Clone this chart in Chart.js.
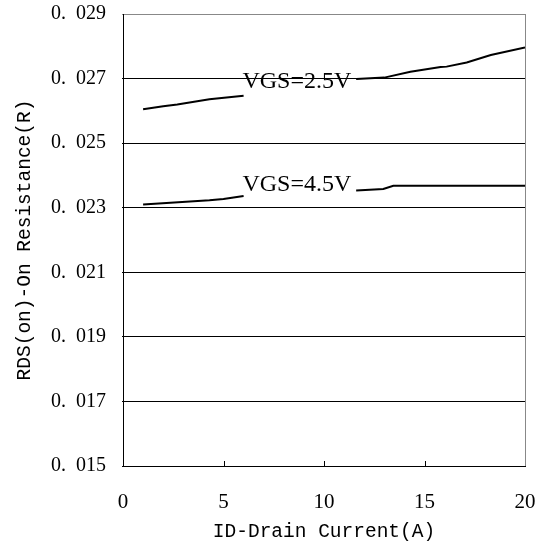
<!DOCTYPE html>
<html>
<head>
<meta charset="utf-8">
<script src="https://cdn.jsdelivr.net/npm/chart.js@4/dist/chart.umd.min.js"></script>
<style>
  html, body { margin: 0; padding: 0; background: #fff; }
  #wrap { width: 547px; height: 549px; }
</style>
</head>
<body>
<div id="wrap"><canvas id="js-chart"></canvas></div>
<script>
'use strict';

// drain current (A) and on-resistance (ohm); null = gap for the label
const currentVgs25 = [1, 2, 2.7, 4.3, 6, null, 11.6, 13, 14.3, 15.8, 16.1, 17.1, 18.3, 20];
const resistVgs25 = [0.02605, 0.02614, 0.0262, 0.02636, 0.02647, null, 0.02699, 0.02703, 0.02721, 0.02736, 0.02737, 0.0275, 0.02773, 0.02796];

const currentVgs45 = [1, 4.3, 5, 6, null, 11.6, 12.95, 13.45, 20];
const resistVgs45 = [0.0231, 0.02323, 0.02327, 0.02336, null, 0.02353, 0.02358, 0.02368, 0.02368];

const seriesNames = ['VGS=2.5V', 'VGS=4.5V'];
const labelSpots = [[8.65, 0.0269], [8.65, 0.0237]];

const xTicks = [0, 5, 10, 15, 20];
const yTicks = [0.015, 0.017, 0.019, 0.021, 0.023, 0.025, 0.027, 0.029];
const yTickLabels = ['0.\u2002015', '0.\u2002017', '0.\u2002019', '0.\u2002021', '0.\u2002023', '0.\u2002025', '0.\u2002027', '0.\u2002029'];

const toPoints = function(xs, ys) {
  return xs.map((x, i) => (x === null ? { x: NaN, y: null } : { x: x, y: ys[i] }));
};

// curve names placed on the chart in data coordinates, plus inward x ticks
const curveLabels = {
  id: 'curveLabels',
  afterDatasetsDraw(chart) {
    const ctx = chart.ctx;
    const xs = chart.scales.x;
    const ys = chart.scales.y;
    ctx.save();
    ctx.font = '24px "Liberation Serif"';
    ctx.fillStyle = '#000';
    ctx.textAlign = 'center';
    ctx.textBaseline = 'middle';
    labelSpots.forEach((p, i) => {
      ctx.fillText(seriesNames[i], xs.getPixelForValue(p[0]), ys.getPixelForValue(p[1]));
    });
    ctx.strokeStyle = '#000';
    ctx.lineWidth = 1;
    const bottom = chart.chartArea.bottom;
    for (let v of [5, 10, 15]) {
      const px = Math.round(xs.getPixelForValue(v)) + 0.5;
      ctx.beginPath();
      ctx.moveTo(px, bottom);
      ctx.lineTo(px, bottom - 5);
      ctx.stroke();
    }
    ctx.restore();
  }
};

const ctx = document.getElementById('js-chart').getContext('2d');
const myChart = new Chart(ctx, {
  type: 'line',
  data: {
    datasets: [
      {
        label: seriesNames[0],
        data: toPoints(currentVgs25, resistVgs25),
        borderColor: '#000',
        borderWidth: 2,
        pointRadius: 0,
        tension: 0,
        spanGaps: false
      },
      {
        label: seriesNames[1],
        data: toPoints(currentVgs45, resistVgs45),
        borderColor: '#000',
        borderWidth: 2,
        pointRadius: 0,
        tension: 0,
        spanGaps: false
      }
    ]
  },
  options: {
    responsive: true,
    maintainAspectRatio: false,
    animation: false,
    layout: { padding: { top: 14, right: 22, left: 0, bottom: 0 } },
    plugins: {
      legend: { display: false },
      tooltip: { enabled: false }
    },
    scales: {
      x: {
        type: 'linear',
        min: 0,
        max: 20,
        afterBuildTicks: function(scale) {
          scale.ticks = xTicks.map(v => ({ value: v }));
        },
        afterFit: function(scale) {
          scale.height = 83;
          scale.paddingLeft = 0;
          scale.paddingRight = 0;
        },
        ticks: {
          padding: 24,
          color: '#000',
          font: { family: 'Liberation Serif', size: 21 },
          maxRotation: 0
        },
        grid: {
          drawTicks: false,
          color: c => (c.tick && c.tick.value === 20 ? '#888' : 'rgba(0,0,0,0)')
        },
        border: { color: '#000', width: 1 },
        title: {
          display: true,
          text: 'ID-Drain Current(A)',
          color: '#000',
          font: { family: 'Liberation Mono', size: 19.5 },
          padding: { top: 0, bottom: 5 }
        }
      },
      y: {
        type: 'linear',
        min: 0.015,
        max: 0.029,
        afterBuildTicks: function(scale) {
          scale.ticks = yTicks.map(v => ({ value: v }));
        },
        afterFit: function(scale) {
          scale.width = 123;
          scale.paddingTop = 0;
          scale.paddingBottom = 0;
        },
        ticks: {
          padding: 16,
          color: '#000',
          font: { family: 'Liberation Serif', size: 20 },
          callback: function(value) {
            const i = yTicks.findIndex(t => Math.abs(t - value) < 1e-9);
            return i >= 0 ? yTickLabels[i] : '';
          }
        },
        grid: {
          tickLength: 1,
          color: c => (c.tick && Math.abs(c.tick.value - 0.029) < 1e-9 ? '#888' : '#000')
        },
        border: { color: '#000', width: 1 },
        title: {
          display: true,
          text: 'RDS(on)-On Resistance(R)',
          color: '#000',
          font: { family: 'Liberation Mono', size: 19.5 },
          padding: { top: 13, bottom: 0 }
        }
      }
    }
  },
  plugins: [curveLabels]
});
</script>
</body>
</html>
